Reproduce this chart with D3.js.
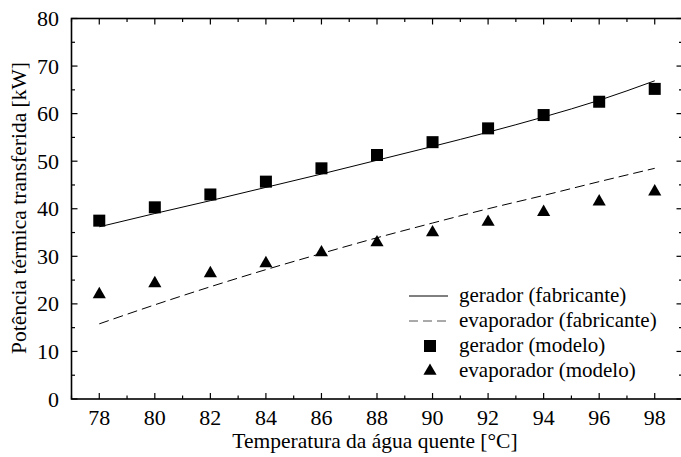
<!DOCTYPE html>
<html>
<head>
<meta charset="utf-8">
<script src="https://cdn.jsdelivr.net/npm/d3@7"></script>
</head>
<body style="margin:0">
<script>
// temperatures (°C)
const temps = [78, 80, 82, 84, 86, 88, 90, 92, 94, 96, 98];
// manufacturer curves (kW)
const geradorFab = [36.2, 39.0, 41.7, 44.5, 47.3, 50.2, 53.1, 56.1, 59.3, 62.8, 66.9];
const evapFab = [15.8, 19.8, 23.6, 27.2, 30.6, 33.9, 37.0, 40.0, 42.8, 45.7, 48.5];
// model points (kW)
const geradorMod = [37.5, 40.3, 43.0, 45.7, 48.5, 51.3, 54.0, 56.9, 59.7, 62.5, 65.2];
const evapMod = [22.0, 24.3, 26.4, 28.5, 30.8, 32.9, 35.0, 37.2, 39.3, 41.5, 43.6];

const xTicks = d3.range(78, 99, 2);
const yTicks = d3.range(0, 81, 10);
const legendLabels = ["gerador (fabricante)", "evaporador (fabricante)", "gerador (modelo)", "evaporador (modelo)"];

const width = 681, height = 457;
const margin = {left: 71.5, top: 18.5, right: -1.5, bottom: 58};
const FONT = "'Liberation Serif', monospace";

const svg = d3.select("body").append("svg")
  .attr("width", width)
  .attr("height", height);

const x = d3.scaleLinear().domain([77, 99]).range([margin.left, width - margin.right]);
const y = d3.scaleLinear().domain([0, 80]).range([height - margin.bottom, margin.top]);

const x0 = x.range()[0], x1 = x.range()[1];
const y0 = y.range()[0], y1 = y.range()[1];

// ticks, all pointing inside
const axes = svg.append("g").attr("stroke", "#000").attr("stroke-width", 1.2);
d3.range(77, 100, 1).forEach(v => {
  const len = v % 2 === 0 ? 6 : 3.5;
  axes.append("line").attr("x1", x(v)).attr("x2", x(v)).attr("y1", y0).attr("y2", y0 - len);
  axes.append("line").attr("x1", x(v)).attr("x2", x(v)).attr("y1", y1).attr("y2", y1 + len);
});
d3.range(0, 81, 5).forEach(v => {
  const len = v % 10 === 0 ? 6 : 3.5;
  axes.append("line").attr("x1", x0).attr("x2", x0 + len).attr("y1", y(v)).attr("y2", y(v));
  axes.append("line").attr("x1", x1).attr("x2", x1 - len).attr("y1", y(v)).attr("y2", y(v));
});

svg.append("rect")
  .attr("x", x0).attr("y", y1)
  .attr("width", x1 - x0).attr("height", y0 - y1)
  .attr("fill", "none").attr("stroke", "#000").attr("stroke-width", 1.6);

// tick labels
svg.append("g").selectAll("text").data(xTicks).join("text")
  .attr("font-family", FONT)
  .attr("x", d => x(d)).attr("y", y0 + 26)
  .attr("text-anchor", "middle").attr("font-size", 22)
  .text(d => d);

svg.append("g").selectAll("text").data(yTicks).join("text")
  .attr("font-family", FONT)
  .attr("x", 59).attr("y", d => y(d) + 7.5)
  .attr("text-anchor", "end").attr("font-size", 22)
  .text(d => d);

// axis titles
svg.append("text")
  .attr("font-family", FONT)
  .attr("x", 375).attr("y", 448)
  .attr("text-anchor", "middle").attr("font-size", 21.5)
  .text("Temperatura da água quente [°C]");

svg.append("text")
  .attr("font-family", FONT)
  .attr("transform", `translate(26,208) rotate(-90)`)
  .attr("text-anchor", "middle").attr("font-size", 21.5)
  .text("Potência térmica transferida [kW]");

// lines
const line = vals => d3.line().x((d, i) => x(temps[i])).y(d => y(d)).curve(d3.curveMonotoneX)(vals);

svg.append("path").attr("d", line(geradorFab))
  .attr("fill", "none").attr("stroke", "#000").attr("stroke-width", 1);
svg.append("path").attr("d", line(evapFab))
  .attr("fill", "none").attr("stroke", "#000").attr("stroke-width", 1)
  .attr("stroke-dasharray", "10,5");

// markers
const sq = 12;
svg.append("g").selectAll("rect").data(geradorMod).join("rect")
  .attr("x", (d, i) => x(temps[i]) - sq / 2)
  .attr("y", d => y(d) - sq / 2)
  .attr("width", sq).attr("height", sq).attr("fill", "#000");

const tri = d3.symbol().type(d3.symbolTriangle).size(75);
svg.append("g").selectAll("path").data(evapMod).join("path")
  .attr("transform", (d, i) => `translate(${x(temps[i])},${y(d)})`)
  .attr("d", tri).attr("fill", "#000");

// legend
const lg = svg.append("g");
const ly = [296, 321, 346, 371];
lg.append("line").attr("x1", 409).attr("x2", 448).attr("y1", ly[0]).attr("y2", ly[0])
  .attr("stroke", "#000").attr("stroke-width", 1);
lg.append("line").attr("x1", 409).attr("x2", 448).attr("y1", ly[1]).attr("y2", ly[1])
  .attr("stroke", "#555").attr("stroke-width", 1).attr("stroke-dasharray", "9,5");
lg.append("rect").attr("x", 430 - sq / 2).attr("y", ly[2] - sq / 2)
  .attr("width", sq).attr("height", sq).attr("fill", "#000");
lg.append("path").attr("transform", `translate(430,${ly[3]})`).attr("d", tri).attr("fill", "#000");
lg.selectAll("text").data(legendLabels).join("text")
  .attr("font-family", FONT)
  .attr("x", 459).attr("y", (d, i) => ly[i] + 6)
  .attr("font-size", 21)
  .text(d => d);
</script>
</body>
</html>
